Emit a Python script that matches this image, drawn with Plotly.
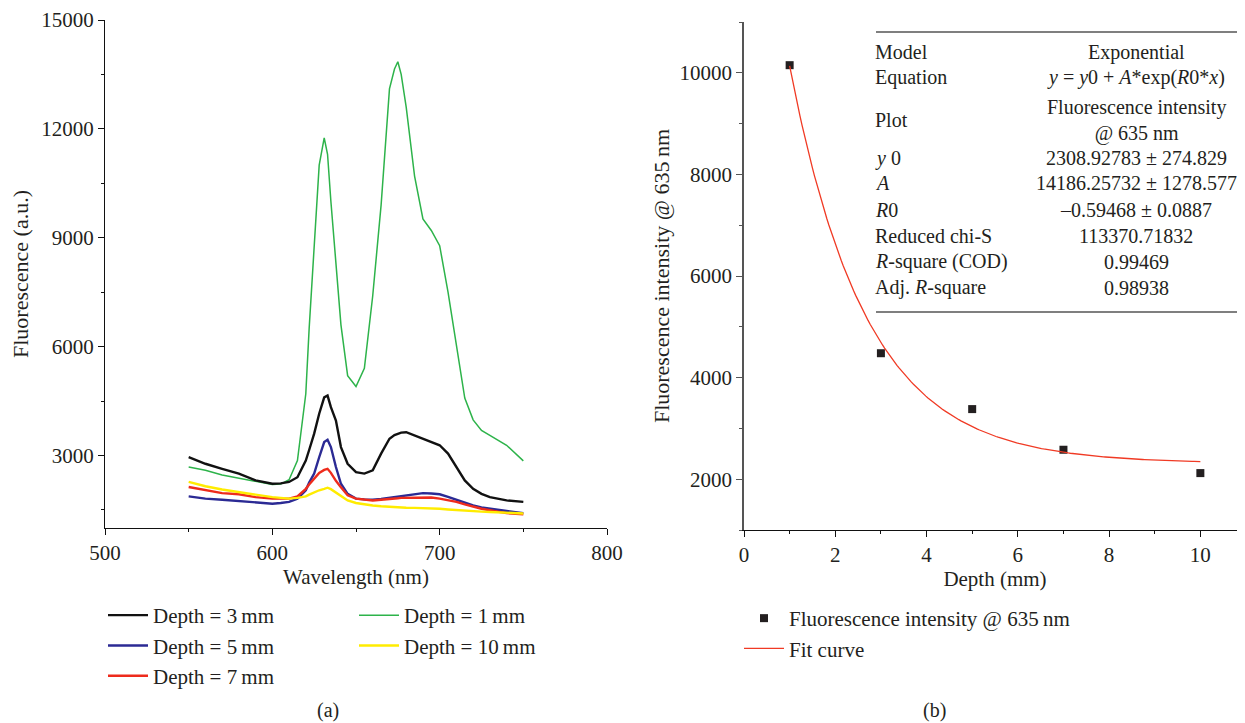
import numpy as np
import plotly.graph_objects as go

W, H = 1245, 723
OFF = 8  # page body margin the browser puts around the plot

# spectra
wavelength = [550, 560, 570, 580, 590, 600, 605, 610, 615, 620, 622, 625, 628, 631, 633, 635, 638, 641, 645, 650,
              655, 660, 665, 670, 673, 675, 677, 680, 685, 690, 695, 700, 705, 710, 715, 720, 725, 730, 740, 750]
depth_1mm = [2680, 2590, 2460, 2370, 2270, 2200, 2210, 2330, 2860, 4700, 6500, 8700, 11000, 11750, 11300, 10000, 8300, 6600, 5200, 4900,
             5400, 7400, 9900, 13100, 13650, 13850, 13500, 12600, 10700, 9520, 9200, 8780, 7500, 6050, 4580, 3980, 3690, 3550, 3280, 2850]
depth_3mm = [2950, 2770, 2630, 2500, 2310, 2220, 2230, 2270, 2400, 2860, 3150, 3600, 4150, 4600, 4650, 4330, 3960, 3230, 2770, 2540,
             2500, 2590, 3050, 3460, 3560, 3600, 3630, 3640, 3550, 3460, 3370, 3280, 3050, 2680, 2310, 2080, 1940, 1850, 1760, 1720]
depth_5mm = [1870, 1810, 1780, 1740, 1690, 1670, 1690, 1720, 1810, 2040, 2250, 2500, 2950, 3370, 3430, 3230, 2680, 2220, 1940, 1810,
             1790, 1780, 1800, 1830, 1850, 1860, 1870, 1900, 1930, 1960, 1950, 1930, 1860, 1780, 1700, 1620, 1570, 1530, 1470, 1410]
depth_7mm = [2130, 2040, 1960, 1930, 1850, 1810, 1800, 1810, 1870, 2080, 2200, 2360, 2520, 2600, 2630, 2520, 2300, 2120, 1900, 1810,
             1780, 1760, 1780, 1810, 1820, 1820, 1830, 1830, 1840, 1850, 1840, 1810, 1770, 1720, 1650, 1580, 1530, 1490, 1410, 1380]
depth_10mm = [2270, 2150, 2060, 1990, 1900, 1850, 1830, 1810, 1830, 1870, 1920, 1990, 2040, 2080, 2110, 2070, 1980, 1880, 1760, 1690,
              1650, 1620, 1600, 1580, 1570, 1565, 1560, 1560, 1555, 1550, 1540, 1530, 1510, 1490, 1475, 1460, 1450, 1440, 1420, 1400]

# panel (b)
depths = [1, 3, 5, 7, 10]
intensity_635 = [10150, 4480, 3380, 2580, 2120]
y0, A, R0 = 2308.92783, 14186.25732, -0.59468

table_labels = ["Model", "Equation", "Plot", "<i>y</i> 0", "<i>A</i>", "<i>R</i>0", "Reduced chi-S",
                "<i>R</i>-square (COD)", "Adj. <i>R</i>-square"]
table_values = ["Exponential", "<i>y</i> = <i>y</i>0 + <i>A</i>*exp(<i>R</i>0*<i>x</i>)",
                "Fluorescence intensity<br>@ 635 nm", "2308.92783 ± 274.829", "14186.25732 ± 1278.577",
                "–0.59468 ± 0.0887", "113370.71832", "0.99469", "0.98938"]
table_rows_px = [52, 77, 120, 158, 183, 210, 236, 262, 288]


# screen pixel -> paper fraction
def px(x):
    return (x - OFF) / W


def py(y):
    return 1 - (y - OFF) / H


FONT = "Liberation Serif"
TXT = "#231f20"

fig = go.Figure()

spectra = [
    ("Depth = 1\u2009mm", depth_1mm, "#2db34a", 1.5, "legend2", 1),
    ("Depth = 3\u2009mm", depth_3mm, "#111111", 2.4, "legend", 1),
    ("Depth = 5\u2009mm", depth_5mm, "#2b2a94", 2.4, "legend", 2),
    ("Depth = 7\u2009mm", depth_7mm, "#ee2b1c", 2.4, "legend", 3),
    ("Depth = 10\u2009mm", depth_10mm, "#ffec00", 2.4, "legend2", 2),
]
for name, vals, col, w, leg, rank in spectra:
    fig.add_trace(go.Scatter(x=wavelength, y=vals, mode="lines", name=name,
                             line=dict(color=col, width=w), legend=leg, legendrank=rank,
                             xaxis="x", yaxis="y"))

fit_x = np.linspace(depths[0], depths[-1], 200)
fit_y = y0 + A * np.exp(R0 * fit_x)

fig.add_trace(go.Scatter(x=depths, y=intensity_635, mode="markers", name="Fluorescence intensity @ 635\u2009nm",
                         marker=dict(symbol="square", size=8, color="#231f20"),
                         legend="legend3", legendrank=1, xaxis="x2", yaxis="y2"))
fig.add_trace(go.Scatter(x=fit_x, y=fit_y, mode="lines", name="Fit curve",
                         line=dict(color="#f03a24", width=1.3),
                         legend="legend3", legendrank=2, xaxis="x2", yaxis="y2"))

axis_common = dict(showgrid=False, zeroline=False, showline=True, ticks="outside", automargin=False,
                   tickformat="d", tickfont=dict(family=FONT, size=21, color=TXT), ticklen=6)

xt_font = dict(family=FONT, size=21, color=TXT)
yt_font = dict(family=FONT, size=22, color=TXT)
leg_font = dict(family=FONT, size=21, color=TXT)

fig.update_layout(
    width=W, height=H, margin=dict(l=0, r=0, t=0, b=0),
    paper_bgcolor="white", plot_bgcolor="white",
    font=dict(family=FONT, size=20, color=TXT),
    xaxis=dict(domain=[px(105), px(607)], range=[500, 800], dtick=100, linecolor="#111", linewidth=1.3,
               tickcolor="#111", minor=dict(dtick=50, ticklen=3, tickcolor="#111"),
               title=dict(text="Wavelength (nm)", standoff=4, font=xt_font), anchor="y", **axis_common),
    yaxis=dict(domain=[py(528), py(20)], range=[1000, 15000], tick0=0, dtick=3000, linecolor="#111", linewidth=1.3,
               tickcolor="#111", minor=dict(dtick=1500, ticklen=3, tickcolor="#111"),
               title=dict(text="Fluorescence (a.u.)", standoff=6, font=yt_font), anchor="x", **axis_common),
    xaxis2=dict(domain=[px(744), px(1246)], range=[0, 11], dtick=2, linecolor="#111", linewidth=1.3,
                tickcolor="#111", minor=dict(dtick=1, ticklen=3, tickcolor="#111"),
                title=dict(text="Depth (mm)", standoff=4, font=xt_font), anchor="y2", **axis_common),
    yaxis2=dict(domain=[py(530), py(22)], range=[1000, 11000], tick0=0, dtick=2000, linecolor="#555", linewidth=1.5,
                tickcolor="#555", minor=dict(dtick=1000, ticklen=3, tickcolor="#555"),
                title=dict(text="Fluorescence intensity @ 635\u2009nm", standoff=4, font=yt_font), anchor="x2",
                **axis_common),
    legend=dict(x=px(103), y=py(595), xanchor="left", yanchor="top", bgcolor="rgba(0,0,0,0)",
                font=leg_font, tracegroupgap=0, itemwidth=40),
    legend2=dict(x=px(354), y=py(595), xanchor="left", yanchor="top", bgcolor="rgba(0,0,0,0)",
                 font=leg_font, tracegroupgap=0, itemwidth=40),
    legend3=dict(x=px(739), y=py(598), xanchor="left", yanchor="top", bgcolor="rgba(0,0,0,0)",
                 font=leg_font, tracegroupgap=0, itemwidth=40),
)

# fit result table
for yrow in (32, 312):
    fig.add_shape(type="line", xref="paper", yref="paper", x0=px(876), x1=px(1246), y0=py(yrow), y1=py(yrow),
                  line=dict(color="#555", width=1.5))
for lab, val, yrow in zip(table_labels, table_values, table_rows_px):
    fig.add_annotation(text=lab, xref="paper", yref="paper", x=px(873), y=py(yrow), xanchor="left",
                       yanchor="middle", showarrow=False, font=dict(family=FONT, size=20, color=TXT))
    fig.add_annotation(text=val, xref="paper", yref="paper", x=px(1136), y=py(yrow), xanchor="center",
                       yanchor="middle", showarrow=False, font=dict(family=FONT, size=20, color=TXT))

fig.add_annotation(text="(a)", xref="paper", yref="paper", x=px(315), y=py(710), yanchor="middle",
                   showarrow=False, font=dict(family=FONT, size=20, color=TXT))
fig.add_annotation(text="(b)", xref="paper", yref="paper", x=px(948), y=py(710), yanchor="middle",
                   showarrow=False, font=dict(family=FONT, size=20, color=TXT))

fig.write_html("out.html")
